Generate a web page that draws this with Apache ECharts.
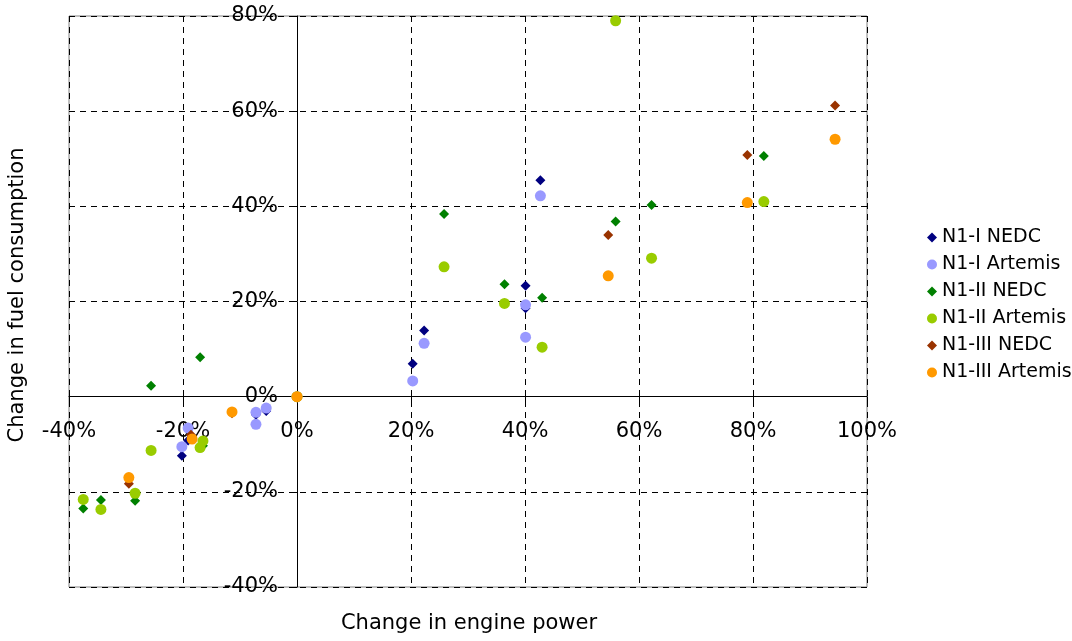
<!DOCTYPE html>
<html>
<head>
<meta charset="utf-8">
<script src="https://cdn.jsdelivr.net/npm/echarts@6/dist/echarts.min.js"></script>
<style>
html,body{margin:0;padding:0;background:#fff;}
#c{width:1072px;height:641px;}
</style>
</head>
<body>
<div id="c"></div>
<script>
// Data: [change in engine power %, change in fuel consumption %]
const seriesNames = ['N1-I NEDC','N1-I Artemis','N1-II NEDC','N1-II Artemis','N1-III NEDC','N1-III Artemis'];
const n1iNedc = [[0,0],[-5.4,-3.0],[-7.2,-3.8],[-7.2,-5.6],[-19.1,-9.2],[-20.2,-12.4],[20.3,6.9],[22.3,13.9],[40.1,23.3],[40.1,18.6],[42.7,45.5]];
const n1iArtemis = [[0,0],[-5.4,-2.4],[-7.2,-3.3],[-7.2,-5.8],[-19.1,-6.6],[-20.2,-10.5],[20.3,3.3],[22.3,11.2],[40.1,19.3],[40.1,12.5],[42.7,42.2]];
const n1iiNedc = [[0,0],[-17.0,8.3],[-25.6,2.3],[-16.5,-10.3],[-28.4,-21.9],[-37.5,-23.5],[-34.4,-21.7],[25.8,38.4],[36.4,23.6],[43.0,20.8],[55.9,36.8],[62.2,40.3],[81.9,50.6]];
const n1iiArtemis = [[0,0],[-16.5,-9.3],[-17.0,-10.7],[-25.6,-11.3],[-28.4,-20.3],[-37.5,-21.6],[-34.4,-23.7],[25.8,27.3],[36.4,19.6],[43.0,10.4],[55.9,79.0],[62.2,29.1],[81.9,41.0]];
const n1iiiNedc = [[0,0],[-11.4,-3.5],[-18.6,-8.0],[-29.5,-18.3],[54.6,34.0],[79.0,50.8],[94.4,61.2]];
const n1iiiArtemis = [[0,0],[-11.4,-3.2],[-18.4,-8.9],[-29.5,-17.0],[54.6,25.4],[79.0,40.8],[94.4,54.1]];
const xMin = -40, xMax = 100, xStep = 20;
const yMin = -40, yMax = 80, yStep = 20;
const xTitle = 'Change in engine power';
const yTitle = 'Change in fuel consumption';

const dataList = [n1iNedc,n1iArtemis,n1iiNedc,n1iiArtemis,n1iiiNedc,n1iiiArtemis];
const colors = ['#000080','#9999FF','#008000','#99CC00','#993300','#FF9900'];
const symbols = ['diamond','circle','diamond','circle','diamond','circle'];
const FONT = 'DejaVu Sans';

const G = {left:69, right:205, top:16, bottom:54, W:1072, H:641};
const plotW = G.W - G.left - G.right, plotH = G.H - G.top - G.bottom;
// Offsets that move each axis (line, ticks, labels) onto the zero of the other axis
const xAxisOffset = -(plotH * (0 - yMin) / (yMax - yMin));
const yAxisOffset = -(plotW * (0 - xMin) / (xMax - xMin));

const chart = echarts.init(document.getElementById('c'), null, {renderer:'canvas'});
chart.setOption({
  animation:false,
  backgroundColor:'#fff',
  textStyle:{fontFamily:FONT},
  grid:{left:G.left,right:G.right,top:G.top,bottom:G.bottom,show:true,borderColor:'#808080',borderWidth:1,
        containLabel:false, outerBoundsMode:'none'},
  legend:{
    orient:'vertical', left:922, top:223, itemWidth:10, itemHeight:10, itemGap:8,
    textStyle:{fontFamily:FONT,fontSize:19,color:'#000'},
    data:seriesNames
  },
  xAxis:{
    type:'value', min:xMin, max:xMax, interval:xStep, position:'bottom', offset:xAxisOffset,
    axisLine:{onZero:false,lineStyle:{color:'#000',width:1}},
    axisTick:{show:true,length:5,lineStyle:{color:'#000'}},
    axisLabel:{formatter:'{value}%',fontFamily:FONT,fontSize:21,color:'#000',margin:24,hideOverlap:false},
    splitLine:{show:true,lineStyle:{color:'#000',type:[6,5],width:1}}
  },
  yAxis:{
    type:'value', min:yMin, max:yMax, interval:yStep, position:'left', offset:yAxisOffset,
    axisLine:{onZero:false,lineStyle:{color:'#000',width:1}},
    axisTick:{show:true,length:6,lineStyle:{color:'#000'}},
    axisLabel:{formatter:'{value}%',fontFamily:FONT,fontSize:21,color:'#000',margin:19,hideOverlap:false},
    splitLine:{show:true,lineStyle:{color:'#000',type:[6,5],width:1}}
  },
  graphic:[
    {type:'text', x:469, y:624,
     style:{text:xTitle,font:'21px "DejaVu Sans"',fill:'#000',align:'center',verticalAlign:'middle'}},
    {type:'text', rotation:Math.PI/2, x:18, y:295,
     style:{text:yTitle,font:'21px "DejaVu Sans"',fill:'#000',align:'center',verticalAlign:'middle'}}
  ],
  series:dataList.map((d,i)=>({
    name:seriesNames[i], type:'scatter', data:d,
    symbol:symbols[i], symbolSize:symbols[i]==='diamond'?10:11,
    itemStyle:{color:colors[i],opacity:1}
  }))
});
</script>
</body>
</html>
